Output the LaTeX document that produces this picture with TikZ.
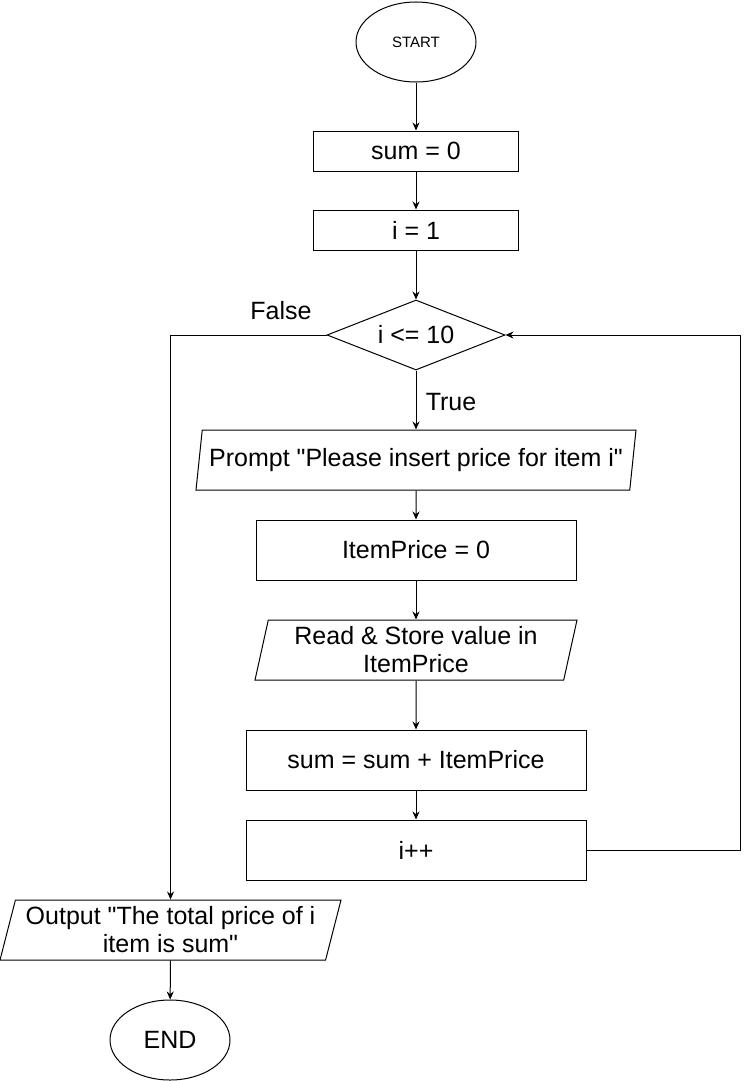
\documentclass[tikz,border=0pt]{standalone}
\usepackage{fontspec}
\setmainfont{Liberation Sans}[Ligatures=TeXOff]
\usetikzlibrary{shapes.geometric,arrows.meta}

\begin{document}
\begin{tikzpicture}[x=1pt,y=-1pt,line width=1pt,
		every node/.style={font=\fontsize{25}{28}\selectfont},
		term/.style={draw,ellipse,minimum width=120,minimum height=80,inner sep=0pt},
		proc/.style={draw,rectangle,minimum width=#1,minimum height=60,inner sep=0pt},
		io/.style={draw,trapezium,trapezium stretches body,minimum width=#1,minimum height=60,inner sep=0pt,align=center},
		dec/.style={draw,diamond,aspect=2.54,minimum width=178,minimum height=70,inner sep=0pt},
		arr/.style={-{Stealth[length=8pt,width=7pt]}}]
		\useasboundingbox (0,0) rectangle (749,1081);
		\node[term,font=\fontsize{15}{18}\selectfont] (start) at (416,42) {START};
		\node[proc=205,minimum height=40] (sum) at (416,151) {sum = 0};
		\node[proc=205,minimum height=40] (init) at (416,230) {i = 1};
		\node[dec] (cond) at (416,335) {i <= 10};
		\node[io=440,trapezium left angle=75,trapezium right angle=105] (prompt) at (416,460) {Prompt "Please insert price for item i"};
		\node[proc=320] (price) at (416,550) {ItemPrice = 0};
		\node[io=322,trapezium left angle=74,trapezium right angle=106] (read) at (416,650) {Read \& Store value in\\ItemPrice};
		\node[proc=340] (add) at (416,760) {sum = sum + ItemPrice};
		\node[proc=340] (inc) at (416,850) {i++};
		\node[io=341,trapezium left angle=71.6,trapezium right angle=108.4] (output) at (170.5,930) {Output "The total price of i\\item is sum"};
		\node[term] (end) at (170,1040) {END};
		\node (false) at (281,311) {False};
		\node (true) at (451,402) {True};
		\draw[arr] (start) -- (sum);
		\draw[arr] (sum) -- (init);
		\draw[arr] (init) -- (cond);
		\draw[arr] (cond) -- (prompt);
		\draw[arr] (prompt) -- (price);
		\draw[arr] (price) -- (read);
		\draw[arr] (read) -- (add);
		\draw[arr] (add) -- (inc);
		\draw[arr] (inc.east) -- ++(154,0) |- (cond.east);
		\draw[arr] (cond.west) -| (output.north);
		\draw[arr] (output) -- (end);
\end{tikzpicture}
\end{document}
